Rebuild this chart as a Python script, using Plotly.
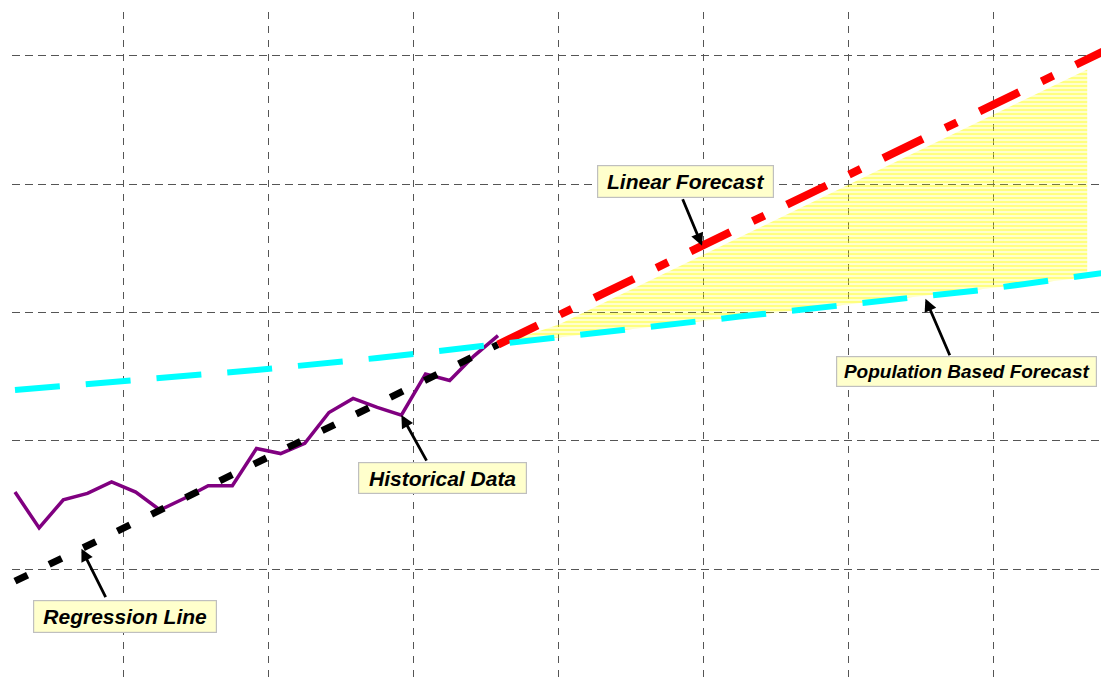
import numpy as np
import plotly.graph_objects as go

# ---- data -------------------------------------------------------------
hist_years = list(range(1980, 2001))
hist_values = [26.0, 23.2, 25.4, 25.9, 26.8, 26.0, 24.6, 25.5, 26.5, 26.5,
               29.4, 29.0, 29.8, 32.2, 33.3, 32.6, 32.0, 35.2, 34.7, 36.6, 38.2]

regress_years = [1980, 2000]
regress_values = [19.05, 37.5]

linear_years = [2000, 2025.5]
linear_values = [37.5, 60.75]

pop_years = [1980, 1985, 1990, 1995, 2000, 2005, 2010, 2015, 2020, 2025.5]
pop_values = [33.95, 34.72, 35.52, 36.45, 37.55, 38.6, 39.68, 40.72, 41.75, 43.2]

band_years = [2000, 2002.5, 2024.4]
band_top = [37.5, 39.05, 58.95]
band_bottom = [37.55, 38.05, 42.75]

# ---- figure -----------------------------------------------------------
fig = go.Figure()

# hatched range between the two forecasts
fig.add_trace(go.Scatter(
    x=band_years + band_years[::-1],
    y=band_top + band_bottom[::-1],
    mode="lines", line=dict(width=0), fill="toself",
    fillcolor="rgba(0,0,0,0)",
    fillpattern=dict(shape="-", fgcolor="#FFFF00", bgcolor="rgba(0,0,0,0)",
                     size=4, solidity=0.7),
    hoverinfo="skip", showlegend=False))

fig.add_trace(go.Scatter(x=hist_years, y=hist_values, mode="lines",
                         line=dict(color="#800080", width=3.5),
                         name="Historical Data", showlegend=False))

fig.add_trace(go.Scatter(x=regress_years, y=regress_values, mode="lines",
                         line=dict(color="#000000", width=7, dash="14px,24px"),
                         name="Regression Line", showlegend=False))

fig.add_trace(go.Scatter(x=linear_years, y=linear_values, mode="lines",
                         line=dict(color="#FF0000", width=8,
                                   dash="44px,25px,13px,25px"),
                         name="Linear Forecast", showlegend=False))

fig.add_trace(go.Scatter(x=pop_years, y=pop_values, mode="lines",
                         line=dict(color="#00FFFF", width=6, dash="45px,26px"),
                         name="Population Based Forecast", showlegend=False))

# ---- callouts ---------------------------------------------------------
def reg_at(year):
    return float(np.interp(year, regress_years, regress_values))

def lin_at(year):
    return float(np.interp(year, linear_years, linear_values))

def pop_at(year):
    return float(np.interp(year, pop_years, pop_values))

arrows = [
    (1982.75, reg_at(1982.75), 25, 50),
    (1996, hist_values[hist_years.index(1996)], 26, 47),
    (2008.45, lin_at(2008.45), -20, -48),
    (2017.7, pop_at(2017.7) - 0.2, 25, 58),
]
for x, y, ax, ay in arrows:
    fig.add_annotation(x=x, y=y, ax=ax, ay=ay, text="", showarrow=True,
                       arrowhead=2, arrowsize=0.9, arrowwidth=2.8,
                       arrowcolor="#000000", standoff=0)

labels = [
    ("Regression Line", 1984.55, 16.30, 178, 27, 21),
    ("Historical Data", 1997.70, 27.10, 163, 26, 21),
    ("Linear Forecast", 2007.78, 50.21, 171, 27, 21),
    ("Population Based Forecast", 2019.40, 35.40, 255, 25, 19),
]
for text, x, y, w, h, fs in labels:
    fig.add_annotation(x=x, y=y, text="<b><i>%s</i></b>" % text,
                       showarrow=False, xanchor="center", yanchor="middle",
                       width=w, height=h, borderpad=2, borderwidth=1.2,
                       bordercolor="#BFBFBF", bgcolor="#FFFFCC",
                       font=dict(family="Liberation Sans, Arial, sans-serif",
                                 size=fs, color="#000000"))

fig.update_layout(
    width=1101, height=682,
    margin=dict(l=12, r=0, t=12, b=0),
    paper_bgcolor="white", plot_bgcolor="white",
    showlegend=False,
)
fig.update_xaxes(range=[1979.876, 2024.97], tick0=1984.5, dtick=6,
                 showgrid=True, gridcolor="#555555", gridwidth=1,
                 griddash="7px,7px", showticklabels=False, ticks="",
                 zeroline=False, showline=False)
fig.update_yaxes(range=[11.19, 63.43], tick0=0, dtick=10,
                 showgrid=True, gridcolor="#555555", gridwidth=1,
                 griddash="8px,5px", showticklabels=False, ticks="",
                 zeroline=False, showline=False)

fig.write_html("out.html")
